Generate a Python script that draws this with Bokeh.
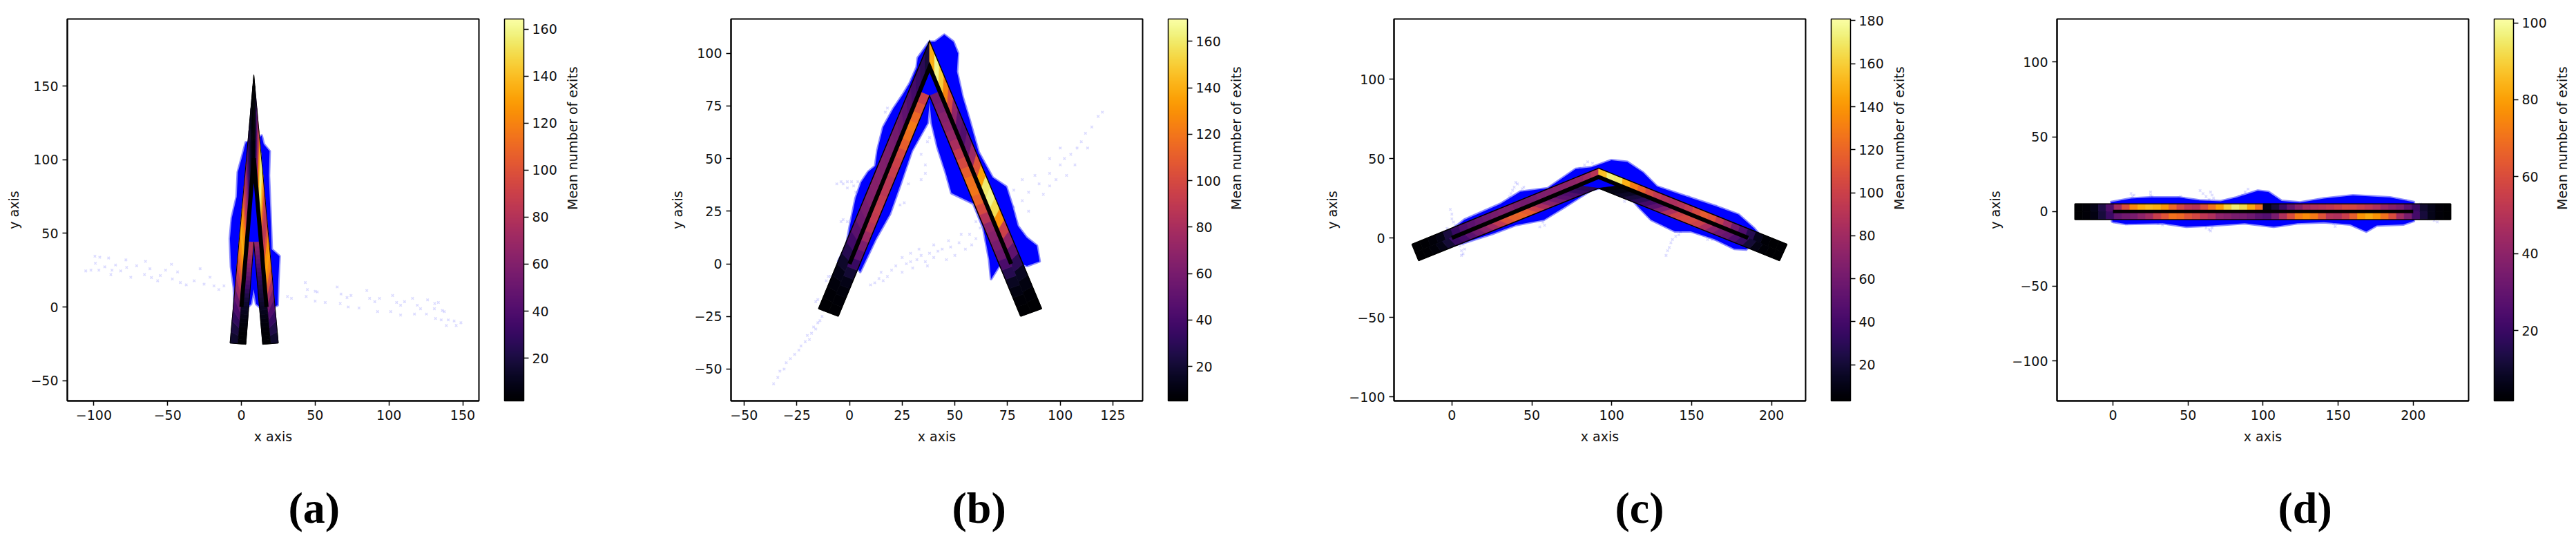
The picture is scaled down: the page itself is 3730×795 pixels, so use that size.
import numpy as np
from bokeh.plotting import figure
from bokeh.embed import file_html
from bokeh.resources import INLINE
from bokeh.layouts import row
from bokeh.models import (ColumnDataSource, ColorBar, FixedTicker, LinearAxis,
                          LinearColorMapper, Range1d, Title)
from bokeh.palettes import Inferno256
from bokeh.transform import transform

# --- panel (a) ---
a_xrange = [-118, 161]
a_yrange = [-63.8, 195.7]
a_xticks = [-100, -50, 0, 50, 100, 150]
a_yticks = [-50, 0, 50, 100, 150]
a_cbar = [1.8, 164.3]
a_cticks = [20, 40, 60, 80, 100, 120, 140, 160]
a_outer_x = [-7.7, 8.4, 25]
a_outer_y = [-24.5, 157.7, -24.5]
a_inner_x = [3, 8.4, 14.4]
a_inner_y = [-25.4, 44, -25.4]
a_center_x = [0, 8.4, 17]
a_center_y = [0, 101, 0]
a_roof = 0.55
a_left_outer = [15, 20, 28, 38, 50, 70, 85, 100, 115, 125, 135, 128, 120, 100, 85, 75, 60, 40, 28, 20, 12, 8, 4, 2]
a_left_inner = [3, 3, 3, 4, 5, 6, 8, 10, 12, 15, 18, 22, 27, 33, 38, 44, 50, 55, 60, 65, 70, 75, 78, 78]
a_right_outer = [15, 22, 30, 40, 55, 75, 100, 120, 130, 125, 100, 85, 85, 95, 120, 145, 160, 150, 125, 85, 60, 35, 12, 3]
a_right_inner = [3, 3, 3, 4, 5, 6, 8, 10, 12, 14, 16, 18, 20, 22, 25, 28, 32, 36, 40, 45, 50, 55, 60, 65]
a_blue_x = [-4.6, -5.1, -7, -7.8, -6.5, -3.2, -2.4, 0.8, 3, 9.7, 13.7, 15.1, 19.1, 18.6, 19.6, 20.5, 25.8, 25, 24.5, 19.1, 13.7, 10, 8.3, 6.5, 3, -2.4]
a_blue_y = [0, 13.1, 27.3, 46.4, 60.6, 74.9, 91.6, 103.4, 111.8, 113, 116.5, 110.6, 105.8, 89.2, 65.4, 39.2, 34.5, 17.8, 1.2, -1.2, -1.2, 2, 12, 2, -1.2, -1.2]
a_stray_x = [-105.5, -102, -99, -99.3, -96, -90, -92.6, -96.6, -87.7, -88.5, -85.3, -81.8, -78.3, -77.8, -75, -71, -65.7, -65, -62, -61, -56.8, -55, -51.4, -47.4, -43.3, -46.8, -41.4, -37.4, -32, -28, -25.3, -21.3, -18.6, -15.3, -11.8,
             31.2, 33.9, 43.3, 44.7, 43.9, 50, 51.4, 50, 56.8, 64.9, 67.5, 67, 72.4, 71.6, 74.3, 79.7, 85, 86.9, 90.4, 93.6, 92.3, 101.2, 102.5, 105.2, 107.9, 110.6, 107.9, 116, 119.2, 121.4, 117.3, 125.4, 126.2, 130.8, 131, 133.5, 136.2, 137.5, 131.6, 135.4, 138.9, 140.2, 144.2, 145.6, 148.8]
a_stray_y = [24.5, 25, 29.7, 34.5, 33.8, 33.3, 27.3, 25, 25, 22, 28.5, 24.5, 32, 26.9, 20.2, 28, 22, 31, 26, 20, 17.8, 21.4, 25, 29, 23.8, 19, 16.6, 15, 17.8, 26, 15.5, 20.2, 14.3, 11.9, 14.3,
             7.1, 5.9, 16.6, 11.9, 7.1, 10.7, 10.2, 4, 3.1, 13.6, 8.8, 2.4, 0, 6.4, 7.8, -0.7, 11.2, 5.9, 3.6, 5.9, -3.1, -3.1, 7.8, 3.1, 1.2, 3.6, -5.5, 5.9, 1.2, -1.2, -4.8, -4.8, 4.8, -1.2, 2.4, 3.1, -2.4, -3.1, -7.8, -8.8, -12.6, -8.8, -9.5, -12.6, -10.7]

# --- panel (b) ---
b_xrange = [-56.2, 139.1]
b_yrange = [-65.1, 116.3]
b_xticks = [-50, -25, 0, 25, 50, 75, 100, 125]
b_yticks = [-50, -25, 0, 25, 50, 75, 100]
b_cbar = [5.2, 169.6]
b_cticks = [20, 40, 60, 80, 100, 120, 140, 160]
b_outer_x = [-14.7, 38, 91.2]
b_outer_y = [-21.3, 105.9, -21.3]
b_inner_x = [-5.3, 38, 81.2]
b_inner_y = [-24.9, 79.8, -24.9]
b_center_x = [0, 38, 76.7]
b_center_y = [0, 93.5, 0]
b_roof = 0.90
b_left_outer = [6, 7, 9, 12, 18, 28, 38, 48, 56, 60, 63, 65, 65, 63, 62, 60, 58, 55, 50, 45, 40, 35, 30, 22]
b_left_inner = [6, 7, 9, 12, 20, 35, 50, 62, 75, 85, 90, 92, 90, 88, 88, 92, 95, 100, 110, 118, 122, 115, 105, 95]
b_right_outer = [5, 7, 10, 15, 30, 50, 70, 95, 130, 155, 165, 160, 135, 105, 75, 55, 45, 50, 70, 100, 125, 150, 165, 140]
b_right_inner = [5, 7, 10, 15, 28, 42, 55, 60, 65, 70, 85, 100, 112, 120, 118, 110, 100, 90, 80, 72, 68, 65, 60, 58]
b_blue_x = [-5.3, -1.5, 0.2, 2.9, 5.6, 8.9, 12.2, 13.3, 16, 20.9, 25.3, 28.6, 31.9, 32.4, 37.9, 40.6, 45, 49.3, 51.5, 51, 53.7, 57, 61.3, 67.9, 74.4, 77.2, 79.9, 84, 88.9, 90.2, 84.2, 78.5, 72.9, 67.2, 66.3, 63.5, 58.8, 48.4, 45.6, 41.8, 39, 38, 37.1, 29.6, 23.9, 19.2, 12.6, 5.1, 3.2]
b_blue_y = [1.2, 8.6, 18, 31.1, 38.8, 43.7, 46.4, 54.1, 65, 73.8, 80.3, 85.8, 93.4, 97.8, 105.5, 105.5, 108.8, 105.5, 100, 91.3, 79.2, 68.3, 53, 41, 36.6, 27.8, 18, 12.5, 8.6, 1.2, -1, 1.2, 2, -7.2, 2, 17, 28.6, 33.6, 43.6, 55.2, 66.9, 76.8, 66.9, 53.6, 36.9, 23.6, 12, -3.8, -1.3]
b_stray_x = [-36, -34, -33, -31, -30, -28, -26, -24, -23, -21, -20, -19, -18, -17, -16, -15, -14, -13, -12, -16, -15, -11, -10, -9,
             10, 12, 14, 16, 18, 15, 20, 22, 25, 27, 29, 25, 30, 32, 34, 36, 37, 29, 33, 38, 40, 42, 44, 40, 46, 48, 50, 52, 47, 55, 58, 57, 53, 60, 62, 64, 60, 68, 72, 74, 78, 82, 85, 92, 95, 90, 88, 82, 85, 78, 95, 98, 100, 102, 105, 103, 108, 110, 112, 115, 118, 120, 113, 107, 100, 95,
             -6, -4, -3, -1, 1, 2, 4, 6, -1, 3, -3, -4, -1, 20, 24, 26, 17, 18, 34, 36, 37, 38, 36, 34, 28]
b_stray_y = [-57, -54, -51, -50, -47, -45, -43, -41, -39, -37, -34, -36, -33, -30, -31, -28, -27, -25, -22, -18, -17, -8, -6, -6,
             -10, -9, -7, -8, -6, -4, -3, -1, -4, 0, 1, 3, -2, 2, 4, 1, -1, 5, 7, 5, 3, 6, 7, 9, 2, 8, 4, 10, 11, 7, 9, 14, 14, 12, 17, 20, 20, 25, 30, 28, 27, 30, 25, 33, 37, 38, 42, 40, 34, 35, 43, 40, 47, 50, 52, 42, 55, 58, 62, 65, 70, 72, 55, 47, 55, 50,
             38, 39, 38, 39, 39, 37, 39, 36, 36, 34, 21, 20, 20, 30, 28, 29, 72, 74, 52, 47, 58, 60, 43, 40, 38]

# --- panel (c) ---
c_xrange = [-36.2, 221.3]
c_yrange = [-102.6, 137.9]
c_xticks = [0, 50, 100, 150, 200]
c_yticks = [-100, -50, 0, 50, 100]
c_cbar = [3.2, 180.8]
c_cticks = [20, 40, 60, 80, 100, 120, 140, 160, 180]
c_outer_x = [-25, 91.8, 209.7]
c_outer_y = [-4, 43.9, -4]
c_inner_x = [-20.8, 91.8, 205]
c_inner_y = [-14.3, 31.3, -14.3]
c_center_x = [0, 91.8, 185.3]
c_center_y = [0, 38.4, 0]
c_roof = 0.887
c_left_outer = [3, 4, 6, 10, 22, 35, 45, 50, 55, 58, 62, 65, 65, 62, 60, 62, 65, 66, 68, 70, 72, 75, 80, 90]
c_left_inner = [3, 4, 6, 10, 20, 35, 40, 50, 60, 70, 80, 95, 110, 118, 120, 115, 100, 85, 70, 60, 50, 45, 35, 30]
c_right_outer = [3, 3, 5, 12, 28, 45, 60, 80, 95, 110, 115, 105, 95, 88, 85, 88, 95, 105, 118, 130, 150, 170, 172, 155]
c_right_inner = [3, 3, 5, 10, 20, 35, 45, 55, 60, 70, 85, 100, 105, 105, 100, 85, 65, 50, 40, 30, 22, 15, 10, 6]
c_blue_x = [-3.2, 7.9, 30.3, 42.7, 60, 77.4, 87.3, 99.8, 109.7, 119.6, 128.3, 144.4, 164.3, 179.2, 189.1, 192.8, 184.1, 176.7, 164.3, 149.4, 139.5, 124.6, 117.1, 112.2, 99.8, 92.3, 87.3, 70, 57.6, 40.2, 25.3, 7.9, -2]
c_blue_y = [2.6, 11.5, 21.4, 29.1, 31.3, 43.4, 44.5, 49, 47.9, 41.2, 32.4, 26.9, 20.3, 14.8, 6, 1.5, -7.3, -6.8, -0.7, 4.2, 4.2, 11.5, 19.2, 24.7, 31.3, 31.3, 30.2, 19.2, 11.5, 8.2, 2.6, -2.9, -5.1]
c_stray_x = [-3, -1, 0, 0, 1, 2, 37, 38, 39, 40, 41, 43, 44, 45, 36, 57, 58, 55, 5, 6, 7, 8, 7, 6, 134, 135, 136, 137, 138, 140, 142, 143, 160, 163, 165, 80, 83, 85, 88, 110, 108, 145, 148, 165, 170, 140]
c_stray_y = [6, 18, 15, 12, 10, 8, 28, 30, 32, 35, 34, 29, 31, 32, 26, 10, 8, 7, -5, -8, -10, -7, -4, -11, -11, -8, -6, -3, -1, 1, 2, 4, -1, -1, -1, 44, 46, 48, 47, 26, 23, 26, 26, 20, 18, 27]

# --- panel (d) ---
d_xrange = [-37.3, 236.9]
d_yrange = [-126.7, 128.8]
d_xticks = [0, 50, 100, 150, 200]
d_yticks = [-100, -50, 0, 50, 100]
d_cbar = [1.7, 101]
d_cticks = [20, 40, 60, 80, 100]
d_outer_x = [-25.4, 100, 225]
d_outer_y = [5.15, 5.15, 5.15]
d_inner_x = [-25.4, 100, 225]
d_inner_y = [-5.4, -5.4, -5.4]
d_center_x = [0, 100, 200]
d_center_y = [0, 0, 0]
d_roof = 1.0
d_left_outer = [2, 3, 6, 14, 25, 45, 60, 75, 82, 85, 83, 78, 68, 58, 52, 50, 60, 70, 80, 90, 96, 92, 82, 70]
d_left_inner = [2, 3, 5, 12, 20, 30, 33, 35, 40, 45, 55, 62, 70, 68, 62, 58, 52, 48, 40, 38, 35, 35, 32, 28]
d_right_outer = [2, 3, 6, 10, 20, 28, 35, 38, 42, 48, 52, 55, 58, 58, 55, 52, 50, 48, 45, 38, 30, 20, 12, 6]
d_right_inner = [2, 3, 6, 12, 22, 35, 45, 60, 70, 78, 82, 78, 65, 55, 48, 50, 62, 72, 76, 72, 60, 48, 35, 26]
d_blue_x = [-1.2, 12, 24.3, 43.7, 57.7, 71.8, 82.4, 96.5, 103.5, 112.3, 124.6, 140.5, 159.9, 184.5, 200.4, 200.4, 193.3, 175.7, 168.7, 158.1, 140.5, 122.9, 107, 87.7, 66.5, 48.9, 33.1, 8.5, -0.4]
d_blue_y = [6.3, 8.7, 9.4, 9.4, 7.4, 6.8, 9.4, 13.9, 13.1, 7.1, 6, 8.7, 10.7, 9.4, 6.3, -6.3, -8.7, -9.4, -13.4, -8.7, -7.1, -7.9, -10.2, -7.9, -9.4, -10.2, -7.9, -8.3, -6.8]
d_stray_x = [12, 13, 14, 25, 25, 26, 45, 44, 47, 58, 60, 62, 64, 65, 66, 67, 88, 90, 86, 84, -1, 1, 3, 6, 9, 30, 33, 37, 62, 64, 65, 66, 63, 147, 148, 149, 205, 210, 214, 216, 220, 205, 210, 190, 195]
d_stray_y = [12, 10, 11, 13, 11, 10, 10, 9, 9, 14, 12, 10, 8, 13, 11, 9, 13, 15, 11, 10, -6, -7, -6, -7, -8, -8, -9, -8, -11, -12, -13, -11, -9, -8, -10, -7, -4, -5, -6, -7, -4, 5, 4, 8, 7]

FRAME_W = 596
FRAME_H = 553


def minus(ticks):
    return {t: str(t).replace("-", "\u2212") for t in ticks if t < 0}


def lane_cells(edge_x0, edge_y0, edge_x1, edge_y1, mid_x0, mid_y0, mid_x1, mid_y1, heat, xs, ys, values):
    # one quad per heat value, going from the far end of the arm to the apex
    n = len(heat)
    for i in range(n):
        t0, t1 = i / n, (i + 1) / n
        xs.append([edge_x0 + (edge_x1 - edge_x0) * t0, edge_x0 + (edge_x1 - edge_x0) * t1,
                   mid_x0 + (mid_x1 - mid_x0) * t1, mid_x0 + (mid_x1 - mid_x0) * t0])
        ys.append([edge_y0 + (edge_y1 - edge_y0) * t0, edge_y0 + (edge_y1 - edge_y0) * t1,
                   mid_y0 + (mid_y1 - mid_y0) * t1, mid_y0 + (mid_y1 - mid_y0) * t0])
        values.append(heat[i])


def make_panel(caption, xrange, yrange, xticks, yticks, cbar, cticks,
               outer_x, outer_y, inner_x, inner_y, center_x, center_y, roof,
               left_outer, left_inner, right_outer, right_inner,
               blue_x, blue_y, stray_x, stray_y, line_w, edge_w, left_border, right_border):
    p = figure(frame_width=FRAME_W, frame_height=FRAME_H, min_border_left=left_border, min_border_right=right_border,
               min_border_top=27, min_border_bottom=205,
               x_range=Range1d(*xrange), y_range=Range1d(*yrange),
               x_axis_label="x axis", y_axis_label="y axis",
               toolbar_location=None, output_backend="svg", background_fill_color="white")
    p.grid.visible = False
    p.outline_line_color = "black"
    p.outline_line_width = 2
    p.xaxis.ticker = FixedTicker(ticks=xticks)
    p.yaxis.ticker = FixedTicker(ticks=yticks)
    p.xaxis.major_label_overrides = minus(xticks)
    p.yaxis.major_label_overrides = minus(yticks)
    for ax in (p.xaxis, p.yaxis):
        ax.axis_line_width = 2
        ax.major_tick_line_width = 1.5
        ax.major_tick_out = 7
        ax.major_tick_in = 0
        ax.minor_tick_line_color = None
        ax.major_label_text_font = "DejaVu Sans"
        ax.major_label_text_font_size = "19px"
        ax.major_label_text_color = "#111111"
        ax.major_label_standoff = 6
        ax.axis_label_text_font = "DejaVu Sans"
        ax.axis_label_text_font_size = "19px"
        ax.axis_label_text_font_style = "normal"
        ax.axis_label_text_color = "#111111"
        ax.axis_label_standoff = 10

    mapper = LinearColorMapper(palette=Inferno256, low=cbar[0], high=cbar[1])

    p.patch(blue_x, blue_y, fill_color="blue", line_color="blue", line_alpha=0.45, line_width=4, line_join="round")
    p.scatter(stray_x, stray_y, marker="x", size=5, line_color="blue", line_alpha=0.14, line_width=1.5)

    # corridor far ends and the line the two lanes share
    mid_lx = (outer_x[0] + inner_x[0]) / 2
    mid_ly = (outer_y[0] + inner_y[0]) / 2
    mid_rx = (outer_x[2] + inner_x[2]) / 2
    mid_ry = (outer_y[2] + inner_y[2]) / 2
    roof_lx = mid_lx + (center_x[1] - mid_lx) * roof
    roof_ly = mid_ly + (center_y[1] - mid_ly) * roof
    roof_rx = mid_rx + (center_x[1] - mid_rx) * roof
    roof_ry = mid_ry + (center_y[1] - mid_ry) * roof

    xs, ys, values = [], [], []
    lane_cells(outer_x[0], outer_y[0], outer_x[1], outer_y[1], mid_lx, mid_ly, center_x[1], center_y[1], left_outer, xs, ys, values)
    lane_cells(inner_x[0], inner_y[0], inner_x[1], inner_y[1], mid_lx, mid_ly, roof_lx, roof_ly, left_inner, xs, ys, values)
    lane_cells(outer_x[2], outer_y[2], outer_x[1], outer_y[1], mid_rx, mid_ry, center_x[1], center_y[1], right_outer, xs, ys, values)
    lane_cells(inner_x[2], inner_y[2], inner_x[1], inner_y[1], mid_rx, mid_ry, roof_rx, roof_ry, right_inner, xs, ys, values)
    source = ColumnDataSource(data={"xs": xs, "ys": ys, "heat": values})
    p.patches("xs", "ys", source=source, fill_color=transform("heat", mapper),
              line_color=transform("heat", mapper), line_width=0.8)

    p.line(outer_x, outer_y, line_color="black", line_width=edge_w, line_join="miter")
    p.line(inner_x, inner_y, line_color="black", line_width=edge_w, line_join="miter")
    p.line([outer_x[0], inner_x[0]], [outer_y[0], inner_y[0]], line_color="black", line_width=edge_w)
    p.line([outer_x[2], inner_x[2]], [outer_y[2], inner_y[2]], line_color="black", line_width=edge_w)
    p.line(center_x, center_y, line_color="black", line_width=line_w, line_join="miter")

    bar = ColorBar(color_mapper=mapper, ticker=FixedTicker(ticks=cticks), width=28, height=FRAME_H,
                   padding=0, margin=0, location=(37, 0), major_tick_in=0, major_tick_out=7,
                   major_tick_line_color="black", major_tick_line_width=1.5,
                   bar_line_color="black", bar_line_width=1.5, label_standoff=5,
                   major_label_text_font="DejaVu Sans", major_label_text_font_size="19px",
                   major_label_text_color="#111111", border_line_color=None, background_fill_color=None)
    p.add_layout(bar, "right")

    # bare axis on the right, only there to carry the colour bar's rotated label
    label_axis = LinearAxis(axis_label="Mean number of exits", ticker=FixedTicker(ticks=[]),
                            axis_line_color=None, major_tick_line_color=None, minor_tick_line_color=None,
                            axis_label_standoff=19,
                            axis_label_text_font="DejaVu Sans", axis_label_text_font_size="19px",
                            axis_label_text_font_style="normal", axis_label_text_color="#111111",
                            axis_label_orientation=1.5707963)
    p.add_layout(label_axis, "right")

    p.add_layout(Title(text=caption, align="left", offset=320, standoff=104, text_font="Liberation Serif",
                       text_font_style="bold", text_font_size="64px", text_color="black"), "below")
    return p


panel_a = make_panel("(a)", a_xrange, a_yrange, a_xticks, a_yticks, a_cbar, a_cticks,
                     a_outer_x, a_outer_y, a_inner_x, a_inner_y, a_center_x, a_center_y, a_roof,
                     a_left_outer, a_left_inner, a_right_outer, a_right_inner,
                     a_blue_x, a_blue_y, a_stray_x, a_stray_y, 6, 1, 97, 268)
panel_b = make_panel("(b)", b_xrange, b_yrange, b_xticks, b_yticks, b_cbar, b_cticks,
                     b_outer_x, b_outer_y, b_inner_x, b_inner_y, b_center_x, b_center_y, b_roof,
                     b_left_outer, b_left_inner, b_right_outer, b_right_inner,
                     b_blue_x, b_blue_y, b_stray_x, b_stray_y, 6, 1.5, 97, 261)
panel_c = make_panel("(c)", c_xrange, c_yrange, c_xticks, c_yticks, c_cbar, c_cticks,
                     c_outer_x, c_outer_y, c_inner_x, c_inner_y, c_center_x, c_center_y, c_roof,
                     c_left_outer, c_left_inner, c_right_outer, c_right_inner,
                     c_blue_x, c_blue_y, c_stray_x, c_stray_y, 6, 1.5, 103, 261)
panel_d = make_panel("(d)", d_xrange, d_yrange, d_xticks, d_yticks, d_cbar, d_cticks,
                     d_outer_x, d_outer_y, d_inner_x, d_inner_y, d_center_x, d_center_y, d_roof,
                     d_left_outer, d_left_inner, d_right_outer, d_right_inner,
                     d_blue_x, d_blue_y, d_stray_x, d_stray_y, 5, 1.5, 103, 150)

open("out.html", "w").write(file_html(row(panel_a, panel_b, panel_c, panel_d), INLINE))
